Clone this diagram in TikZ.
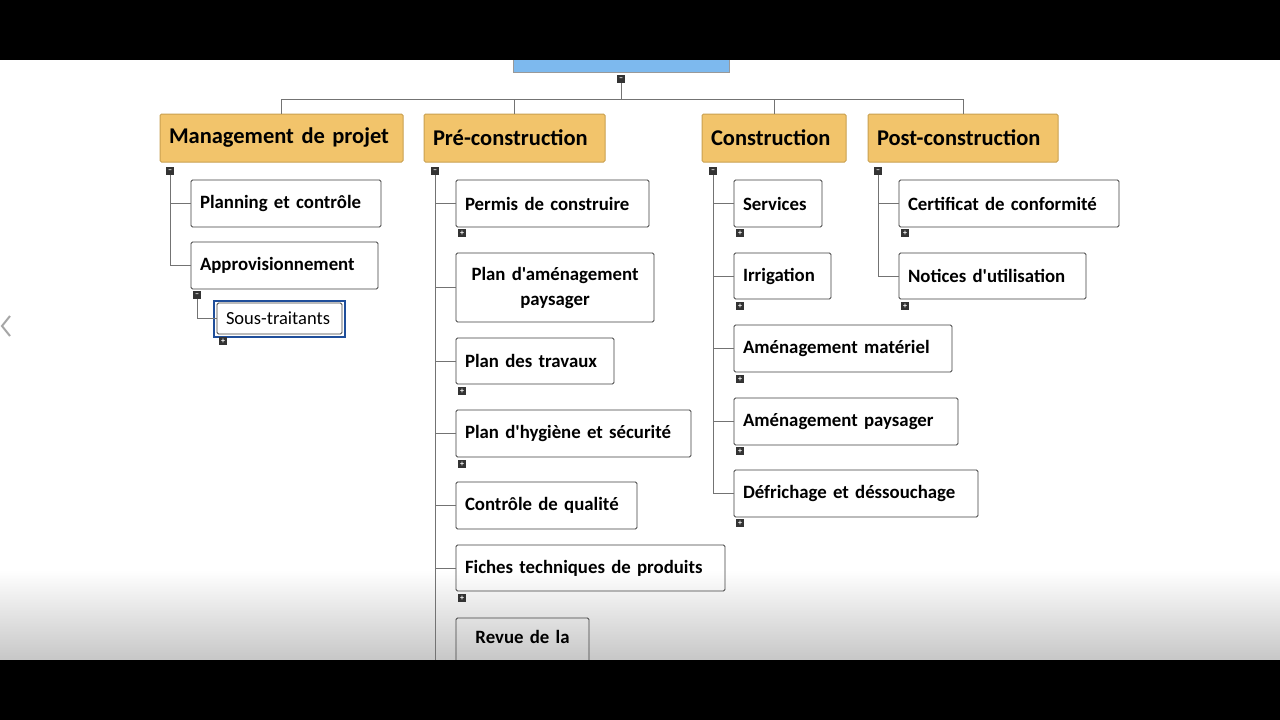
\documentclass[tikz,border=0pt]{standalone}
\usepackage{fontspec}
\setmainfont{Carlito}[Ligatures=TeXOff]
\usetikzlibrary{positioning}
\definecolor{headfill}{HTML}{F2C46B}
\definecolor{headline}{HTML}{C9A050}
\definecolor{topfill}{HTML}{7DB9EE}
\definecolor{selblue}{HTML}{1F4E9A}
\tikzset{
    head/.style={draw=headline, fill=headfill, line width=1pt, rounded corners=1.5pt,
        minimum height=49pt, inner sep=0pt, align=left, font=\fontsize{22.5}{24}\selectfont\bfseries},
    item/.style={draw=black!75, line width=0.9pt, rounded corners=1.5pt,
        minimum height=47pt, inner sep=0pt, align=left, font=\fontsize{18.8}{25}\selectfont\bfseries},
    toggle/.style={fill=black!80, minimum size=8pt, inner sep=0pt, text=white,
        font=\fontsize{8}{8}\selectfont\bfseries},
    link/.style={draw=black!55, line width=1pt}
}
% box from left x, top y, right x, bottom y
\newcommand{\wbsbox}[7]{%
    \node[#1, minimum width=#5pt-#3pt, minimum height=#6pt-#4pt, text width=#5pt-#3pt-18pt]
        (#2) at ({(#3+#5)/2},{(#4+#6)/2}) {#7};}
\begin{document}
\begin{tikzpicture}[x=1pt,y=-1pt]
    \useasboundingbox (0,0) rectangle (1280,720);
    % Screen
    \fill[white] (0,60) rectangle (1280,660);
    \shade[top color=white, bottom color=black!22] (0,570) rectangle (1280,660);
    \draw[black!35, line width=2pt] (10,316) -- (2,326) -- (10,336);
    % Root
    \fill[topfill] (513,60) rectangle (729,72);
    \draw[black!40] (513,60) -- (513,72) -- (729,72) -- (729,60);
    \node[toggle] (rootT) at (621,79) {–};
    \coordinate (bus) at (621,100);
    % Level 1
    \wbsbox{head}{mgmt}{160}{114}{403}{162}{Management de projet}
    \wbsbox{head}{pre}{424}{114}{605}{162}{Pré-construction}
    \wbsbox{head}{cons}{702}{114}{846}{162}{Construction}
    \wbsbox{head}{post}{868}{114}{1058}{162}{Post-construction}
    \draw[link] (rootT) -- (bus);
    \draw[link] (mgmt.north) -- ++(0,-14) -| (post.north);
    \foreach \h in {pre,cons} {
        \draw[link] (\h.north) -- ++(0,-14);
    }
    % Management de projet
    \node[toggle] (mgmtT) at (170,171) {–};
    \wbsbox{item}{plan}{191}{180}{381}{227}{Planning et contrôle}
    \wbsbox{item}{appro}{191}{242}{378}{289}{Approvisionnement}
    \node[toggle] (approT) at (197,295) {–};
    \draw[selblue, line width=1.5pt] (214,301) rectangle (345,337);
    \wbsbox{item, font=\fontsize{18.5}{22}\selectfont, minimum height=30pt}{sous}{217}{303}{342}{334}{Sous-traitants}
    \node[toggle] (sousT) at (223,341) {+};
    \foreach \c in {plan,appro} {
        \draw[link] (mgmtT) |- (\c.west);
    }
    \draw[link] (approT) |- (sous.west);
    % Pre-construction
    \node[toggle] (preT) at (435,171) {–};
    \wbsbox{item}{permis}{456}{180}{649}{227}{Permis de construire}
    \wbsbox{item, align=center}{amenag}{456}{253}{654}{322}{Plan d'aménagement\\paysager}
    \wbsbox{item}{travaux}{456}{338}{614}{384}{Plan des travaux}
    \wbsbox{item}{hygiene}{456}{410}{691}{457}{Plan d'hygiène et sécurité}
    \wbsbox{item}{qualite}{456}{482}{637}{529}{Contrôle de qualité}
    \wbsbox{item}{fiches}{456}{545}{725}{591}{Fiches techniques de produits}
    \wbsbox{item, align=center}{revue}{456}{618}{589}{680}{Revue de la\\\phantom{Revue}}
    \foreach \c in {permis,amenag,travaux,hygiene,qualite,fiches} {
        \draw[link] (preT) |- (\c.west);
    }
    \draw[link] (preT) -- (435,660);
    \foreach \c/\y in {permis/233,travaux/391,hygiene/464,fiches/598} {
        \node[toggle] (\c T) at (462,\y) {+};
    }
    % Construction
    \node[toggle] (consT) at (713,171) {–};
    \wbsbox{item}{services}{734}{180}{822}{227}{Services}
    \wbsbox{item}{irrig}{734}{253}{831}{299}{Irrigation}
    \wbsbox{item}{materiel}{734}{325}{952}{372}{Aménagement matériel}
    \wbsbox{item}{paysager}{734}{398}{958}{445}{Aménagement paysager}
    \wbsbox{item}{defrich}{734}{470}{978}{517}{Défrichage et déssouchage}
    \foreach \c/\y in {services/233,irrig/306,materiel/379,paysager/451,defrich/523} {
        \draw[link] (consT) |- (\c.west);
        \node[toggle] (\c T) at (740,\y) {+};
    }
    % Post-construction
    \node[toggle] (postT) at (878,171) {–};
    \wbsbox{item}{certif}{899}{180}{1119}{227}{Certificat de conformité}
    \wbsbox{item}{notices}{899}{253}{1086}{299}{Notices d'utilisation}
    \foreach \c/\y in {certif/233,notices/306} {
        \draw[link] (postT) |- (\c.west);
        \node[toggle] (\c T) at (905,\y) {+};
    }
    % Black bars
    \fill[black] (0,0) rectangle (1280,60);
    \fill[black] (0,660) rectangle (1280,720);
\end{tikzpicture}
\end{document}
